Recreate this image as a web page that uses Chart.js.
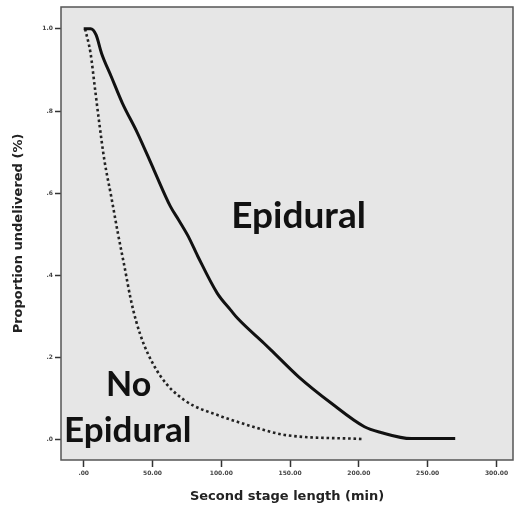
<!DOCTYPE html>
<html>
<head>
<meta charset="utf-8">
<script src="https://cdn.jsdelivr.net/npm/chart.js@4"></script>
<style>
  html, body { margin: 0; padding: 0; background: #fff; }
  #wrap { width: 514px; height: 517px; position: relative; }
</style>
</head>
<body>
<div id="wrap"><canvas id="km"></canvas></div>
<script>
// Kaplan-Meier style curves
const EPI_T = [0, 5, 9, 13, 20, 28, 39, 51, 63, 69, 76, 83, 97, 107, 112, 131, 136, 156, 180, 204, 216, 238, 270];
const EPI_S = [1.0, 1.0, 0.985, 0.94, 0.884, 0.82, 0.747, 0.657, 0.568, 0.535, 0.495, 0.446, 0.357, 0.315, 0.295, 0.235, 0.219, 0.154, 0.089, 0.032, 0.018, 0.003, 0.003];
const NO_T = [1, 5, 8, 11, 15, 20, 25, 30, 34, 38, 44, 56, 73, 100, 107, 131, 146, 202];
const NO_S = [1.0, 0.94, 0.86, 0.779, 0.681, 0.592, 0.5, 0.415, 0.345, 0.29, 0.23, 0.154, 0.097, 0.057, 0.049, 0.024, 0.012, 0.002];

const X_TICKS = [0, 50, 100, 150, 200, 250, 300];
const Y_TICKS = [0, 0.2, 0.4, 0.6, 0.8, 1.0];

const LABELS = [
  { text: 'Epidural', x: 107.2, y: 0.516, size: 37 },
  { text: 'No', x: 16.2, y: 0.107, size: 34 },
  { text: 'Epidural', x: -14.3, y: -0.005, size: 35 }
];

const pts = (t, s) => t.map((v, i) => ({ x: v, y: s[i] }));
const INK = '#333';

const frame = {
  id: 'frame',
  beforeDraw(chart) {
    const { ctx, chartArea: a } = chart;
    ctx.save();
    ctx.fillStyle = '#e6e6e6';
    ctx.fillRect(a.left, a.top, a.right - a.left, a.bottom - a.top);
    ctx.restore();
  },
  afterDraw(chart) {
    const { ctx, chartArea: a, scales } = chart;
    ctx.save();
    ctx.strokeStyle = '#555';
    ctx.lineWidth = 1.5;
    ctx.strokeRect(a.left, a.top, a.right - a.left, a.bottom - a.top);
    ctx.fillStyle = '#111';
    ctx.textAlign = 'left';
    ctx.textBaseline = 'alphabetic';
    LABELS.forEach(l => {
      ctx.font = `bold ${l.size}px Lato, "Open Sans", sans-serif`;
      ctx.fillText(l.text, scales.x.getPixelForValue(l.x), scales.y.getPixelForValue(l.y));
    });
    ctx.restore();
  }
};

new Chart(document.getElementById('km'), {
  type: 'line',
  data: {
    datasets: [{
      label: 'Epidural',
      data: pts(EPI_T, EPI_S),
      borderColor: '#111',
      borderWidth: 3,
      pointRadius: 0,
      cubicInterpolationMode: 'monotone'
    }, {
      label: 'No Epidural',
      data: pts(NO_T, NO_S),
      borderColor: '#222',
      borderWidth: 2.6,
      borderDash: [2.6, 2.8],
      pointRadius: 0,
      cubicInterpolationMode: 'monotone'
    }]
  },
  options: {
    responsive: true,
    maintainAspectRatio: false,
    animation: false,
    layout: { padding: { top: 7, right: 1, left: 0, bottom: 0 } },
    plugins: { legend: { display: false }, tooltip: { enabled: false } },
    scales: {
      x: {
        type: 'linear',
        min: -16.5, max: 312,
        afterFit: s => { s.height = 57; },
        afterBuildTicks: s => { s.ticks = X_TICKS.map(v => ({ value: v })); },
        grid: { drawOnChartArea: false, drawTicks: true, tickLength: 7, tickColor: INK, tickWidth: 1.5 },
        border: { display: false },
        ticks: {
          color: '#444', padding: 3, maxRotation: 0,
          font: { family: 'DejaVu Sans', size: 6, weight: 'bold' },
          callback: v => v === 0 ? '.00' : v.toFixed(2)
        },
        title: {
          display: true, text: 'Second stage length (min)', color: '#222',
          font: { family: 'DejaVu Sans', size: 13, weight: 'bold' },
          padding: 13
        }
      },
      y: {
        min: -0.049, max: 1.053,
        afterFit: s => { s.width = 61; },
        afterBuildTicks: s => { s.ticks = Y_TICKS.map(v => ({ value: v })); },
        grid: { drawOnChartArea: false, drawTicks: true, tickLength: 6, tickColor: INK, tickWidth: 1.5 },
        border: { display: false },
        ticks: {
          color: '#444', padding: 2,
          font: { family: 'DejaVu Sans', size: 6, weight: 'bold' },
          callback: v => v === 1 ? '1.0' : '.' + Math.round(v * 10)
        },
        title: {
          display: true, text: 'Proportion undelivered (%)', color: '#222',
          font: { family: 'DejaVu Sans', size: 13, weight: 'bold' },
          padding: { top: 11, bottom: 0 }
        }
      }
    }
  },
  plugins: [frame]
});
</script>
</body>
</html>
